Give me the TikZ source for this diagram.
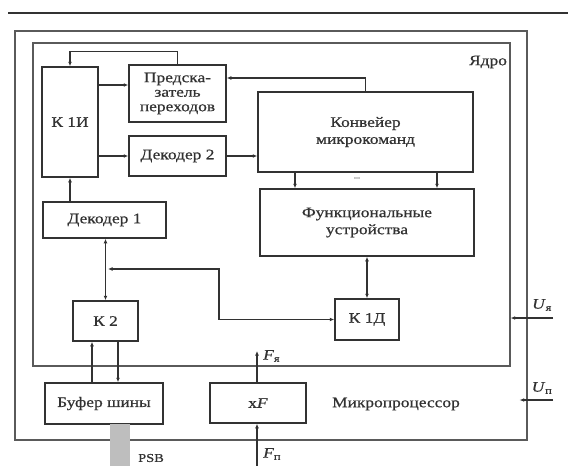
\documentclass[tikz,border=0pt]{standalone}
\usepackage{fontspec}
\setmainfont[FakeStretch=1.2,FakeBold=0.6]{Liberation Serif}
\usetikzlibrary{arrows.meta,positioning,calc}
\definecolor{InkDark}{RGB}{50,50,50}
\definecolor{InkFrame}{RGB}{90,90,90}
\definecolor{BusGray}{RGB}{190,190,190}

\begin{document}
\begin{tikzpicture}[x=1pt,y=-1pt,
    blk/.style={draw=InkDark,line width=1.5pt,fill=white,text=InkDark,
                inner sep=1pt,align=center,font=\fontsize{14.5}{14.5}\selectfont},
    frm/.style={draw=InkFrame,line width=1.2pt},
    lbl/.style={text=InkDark,inner sep=1pt,font=\fontsize{14.5}{15}\selectfont},
    psb/.style={fill=BusGray,inner sep=0pt},
    arr/.style={draw=InkDark,line width=1.3pt,-{Latex[length=4.5pt,width=3.8pt]}},
    arr2/.style={draw=InkDark,line width=1.3pt,
                 {Latex[length=4.5pt,width=3.8pt]}-{Latex[length=4.5pt,width=3.8pt]}}
  ]
  \fill[white] (0,0) rectangle (568,466);
  \useasboundingbox (0,0) rectangle (568,466);
  \draw[line width=2.8pt,InkDark] (8,13) -- (568,13);
  \node[frm,minimum width=512,minimum height=409] (cpu) at (271,235.5) {};
  \node[frm,minimum width=477,minimum height=323] (core) at (271.5,204.5) {};
  \node[blk,minimum width=56,minimum height=110] (k1i) at (70,122) {К 1И};
  \node[blk,minimum width=97,minimum height=57] (pred) at (177.5,93.5) {Предска-\\затель\\переходов};
  \node[blk,minimum width=97,minimum height=40] (dec2) at (177.5,156) {Декодер 2};
  \node[blk,minimum width=215,minimum height=80,font=\fontsize{14.5}{17}\selectfont] (conv) at (365.5,132) {Конвейер\\микрокоманд};
  \node[blk,minimum width=214,minimum height=67,font=\fontsize{14.5}{17}\selectfont] (fu) at (367,222.5) {Функциональные\\устройства};
  \node[blk,minimum width=123,minimum height=36] (dec1) at (104.5,220) {Декодер 1};
  \node[blk,minimum width=65,minimum height=40] (k2) at (105.5,321) {К 2};
  \node[blk,minimum width=64,minimum height=41] (k1d) at (367,319.5) {К 1Д};
  \node[blk,minimum width=118,minimum height=41] (buf) at (104,403.5) {Буфер шины};
  \node[blk,minimum width=96,minimum height=40] (xf) at (258,403) {x\textit{F}};
  \node[psb,minimum width=20,minimum height=42] (fsb) at (120,445) {};
  \node[lbl] (yadro) at (488,62) {Ядро};
  \node[lbl] (mp) at (396,404) {Микропроцессор};
  \node[lbl,anchor=west,font=\fontsize{12}{13}\selectfont] (fsbl) at (137,458) {PSB};
  \node[lbl,font=\scriptsize] (dots) at (357,178) {...};
  \coordinate (tap) at (108,269);
  \coordinate (bend) at (219,269);
  \coordinate (fya) at (257,351);
  \coordinate (fp) at (257,466);
  \coordinate (uya) at (553,318);
  \coordinate (upw) at (553,400);
  \node[lbl,anchor=west] (fyal) at (262,356) {\textit{F}\textsubscript{я}};
  \node[lbl,anchor=west] (fpl) at (262,454) {\textit{F}\textsubscript{п}};
  \node[lbl] (uyal) at (542,305) {\textit{U}\textsubscript{я}};
  \node[lbl] (upl) at (542,388) {\textit{U}\textsubscript{п}};
  \draw[arr] (pred.north) -- ++(0,-13) -| (k1i.north);
  \draw[arr] (k1i.east |- 0,85) -- (pred.west |- 0,85);
  \draw[arr] (k1i.east |- dec2.west) -- (dec2.west);
  \draw[arr] (dec2.east) -- (dec2.east -| conv.west);
  \draw[arr] (conv.north) |- (pred.east |- 0,78);
  \draw[arr] (k1i.south |- dec1.north) -- (k1i.south);
  \draw[arr2] (k2.north |- dec1.south) -- (k2.north);
  \draw[arr2] (tap) -- (bend) |- (k1d.west);
  \draw[arr2] (fu.south) -- (k1d.north);
  \foreach \xx in {295,437}
    \draw[arr] (conv.south -| \xx,0) -- (fu.north -| \xx,0);
  \draw[arr] (buf.north -| 92,0) -- (k2.south -| 92,0);
  \draw[arr] (k2.south -| 118,0) -- (buf.north -| 118,0);
  \draw[arr] (xf.north -| fya) -- (fya);
  \draw[arr] (fp) -- (fp |- xf.south);
  \draw[arr] (uya) -- (uya -| core.east);
  \draw[arr,shorten >=-8pt] (upw) -- (upw -| cpu.east);
\end{tikzpicture}
\end{document}
